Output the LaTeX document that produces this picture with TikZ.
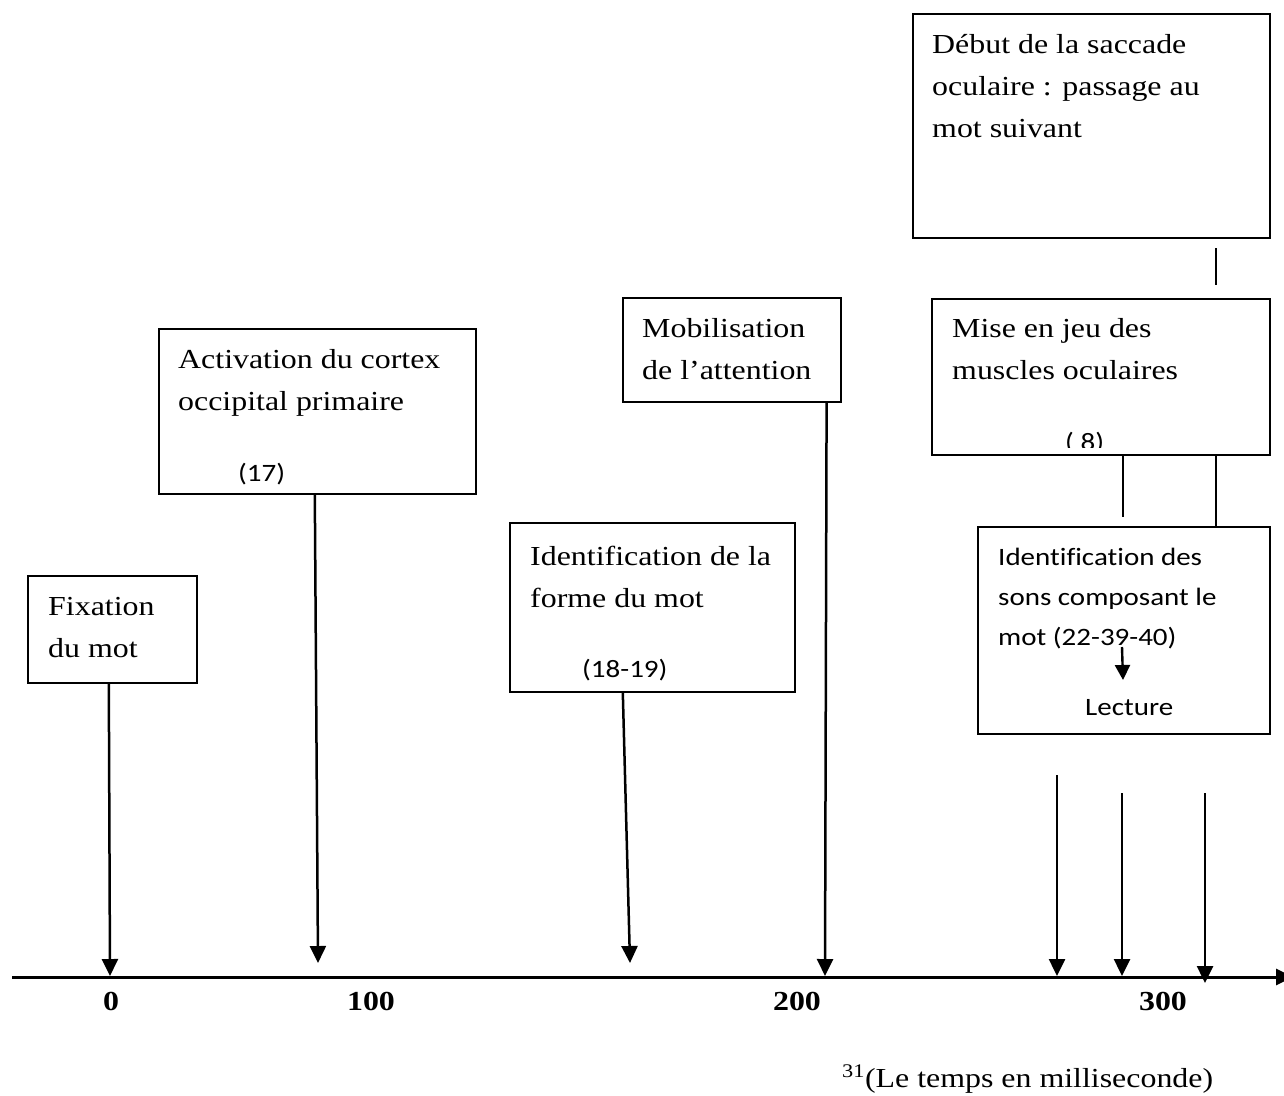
\documentclass[tikz,border=0pt]{standalone}
\usepackage{fontspec}
\setmainfont{Liberation Serif}[FakeStretch=1.16, Ligatures={TeX,NoCommon}]
\newfontfamily\calfont{Carlito}[FakeStretch=1.16, Ligatures=NoCommon]
\usetikzlibrary{arrows.meta}
\begin{document}
\begin{tikzpicture}[x=1pt,y=-1pt,
  boxframe/.style={draw, line width=1.6pt, anchor=north west, inner sep=0pt},
  txt/.style={anchor=north west, inner sep=0pt, align=left, font=\fontsize{27.5}{42}\selectfont},
  ctxt/.style={anchor=north west, inner sep=0pt, align=left, font=\calfont\fontsize{25}{40}\selectfont},
  refnum/.style={anchor=base west, inner sep=0pt, font=\calfont\fontsize{25}{40}\selectfont},
  axnum/.style={anchor=base, inner sep=0pt, font=\bfseries\fontsize{27.5}{42}\selectfont},
  arr/.style={line width=2.5pt, -{Triangle[width=16pt,length=17pt]}},
  link/.style={line width=1.3pt},
]
\useasboundingbox (0,0) rectangle (1284,1095);
\fill[white] (0,0) rectangle (1284,1095);
\clip (0,0) rectangle (1284,1095);

% ---- boxes ----
\node[boxframe, minimum width=169pt, minimum height=107pt] (fix)  at (27,575)  {};
\node[boxframe, minimum width=317pt, minimum height=165pt] (act)  at (158,328) {};
\node[boxframe, minimum width=285pt, minimum height=169pt] (form) at (509,522) {};
\node[boxframe, minimum width=218pt, minimum height=104pt] (mob)  at (622,297) {};
\node[boxframe, minimum width=357pt, minimum height=224pt] (sacc) at (912,13)  {};
\node[boxframe, minimum width=338pt, minimum height=156pt] (mus)  at (931,298) {};
\node[boxframe, minimum width=292pt, minimum height=207pt] (sons) at (977,526) {};

% ---- box texts ----
\node[txt] (fixtxt)  at (48,585.6)  {\strut Fixation\\du mot};
\node[txt] (acttxt)  at (178,338.6) {\strut Activation du cortex\\occipital primaire};
\node[refnum] (actnum) at (238,481) {(17)};
\node[txt] (formtxt) at (530,535.6) {\strut Identification de la\\forme du mot};
\node[refnum] (formnum) at (582,677) {(18-19)};
\node[txt] (mobtxt)  at (642,307.6) {\strut Mobilisation\\de l'attention};
\node[txt] (sacctxt) at (932,23.6)  {\strut Début de la saccade\\oculaire : passage au\\mot suivant};
\node[txt] (mustxt)  at (952,307.6) {\strut Mise en jeu des\\muscles oculaires};
\begin{scope}
  \clip (931,298) rectangle (1269,447);
  \node[refnum] (musnum) at (1065,450) {( 8)};
\end{scope}
\node[ctxt] (sonstxt) at (998,537) {\strut Identification des\\sons composant le\\mot (22-39-40)};
\node[refnum] (lecture) at (1085,715) {Lecture};

% ---- time axis ----
\coordinate (axL) at (12,977);
\coordinate (axR) at (1293,977);
\draw[line width=3pt, -{Triangle[width=16pt,length=17pt]}] (axL) -- (axR);
\node[axnum] (n0)   at (111,1010)  {0};
\node[axnum] (n100) at (371,1010)  {100};
\node[axnum] (n200) at (797,1010)  {200};
\node[axnum] (n300) at (1163,1010) {300};
\node[anchor=base west, inner sep=0pt, font=\fontsize{27.5}{42}\selectfont] (unit) at (842,1087)
  {\textsuperscript{31}(Le temps en milliseconde)};

% ---- arrow ends on the axis ----
\coordinate (t1) at (110,976);
\coordinate (t2) at (318,963);
\coordinate (t3) at (630,963);
\coordinate (t4) at (825,976);
\coordinate (t5) at (1057,976);
\coordinate (t6) at (1122,976);
\coordinate (t7) at (1205,983);
\coordinate (s5) at (1057,775);
\coordinate (s6) at (1122,793);
\coordinate (s7) at (1205,793);

\draw[arr] ([xshift=-3.5pt]fix.south) -- (t1);
\draw[arr] ([xshift=-2.5pt]act.south) -- (t2);
\draw[arr] ([xshift=-29.5pt]form.south) -- (t3);
\draw[arr] ([xshift=-15pt]mob.south east) -- (t4);
\draw[arr] (s5) -- (t5);
\draw[arr] (s6) -- (t6);
\draw[arr] (s7) -- (t7);

% ---- links between the right-hand boxes ----
\coordinate (l1a) at (1216,248);
\coordinate (l1b) at (1216,285);
\draw[link] (l1a) -- (l1b);
\coordinate (l2b) at (1123,517);
\draw[link] (mus.south -| l2b) -- (l2b);
\coordinate (l3) at (1216,0);
\draw[link] (mus.south -| l3) -- (sons.north -| l3);

% ---- small arrow inside the last box ----
\coordinate (la) at (1122,647);
\coordinate (lb) at (1123,680);
\draw[line width=2.4pt, -{Triangle[width=15pt,length=15pt]}] (la) -- (lb);
\end{tikzpicture}
\end{document}
